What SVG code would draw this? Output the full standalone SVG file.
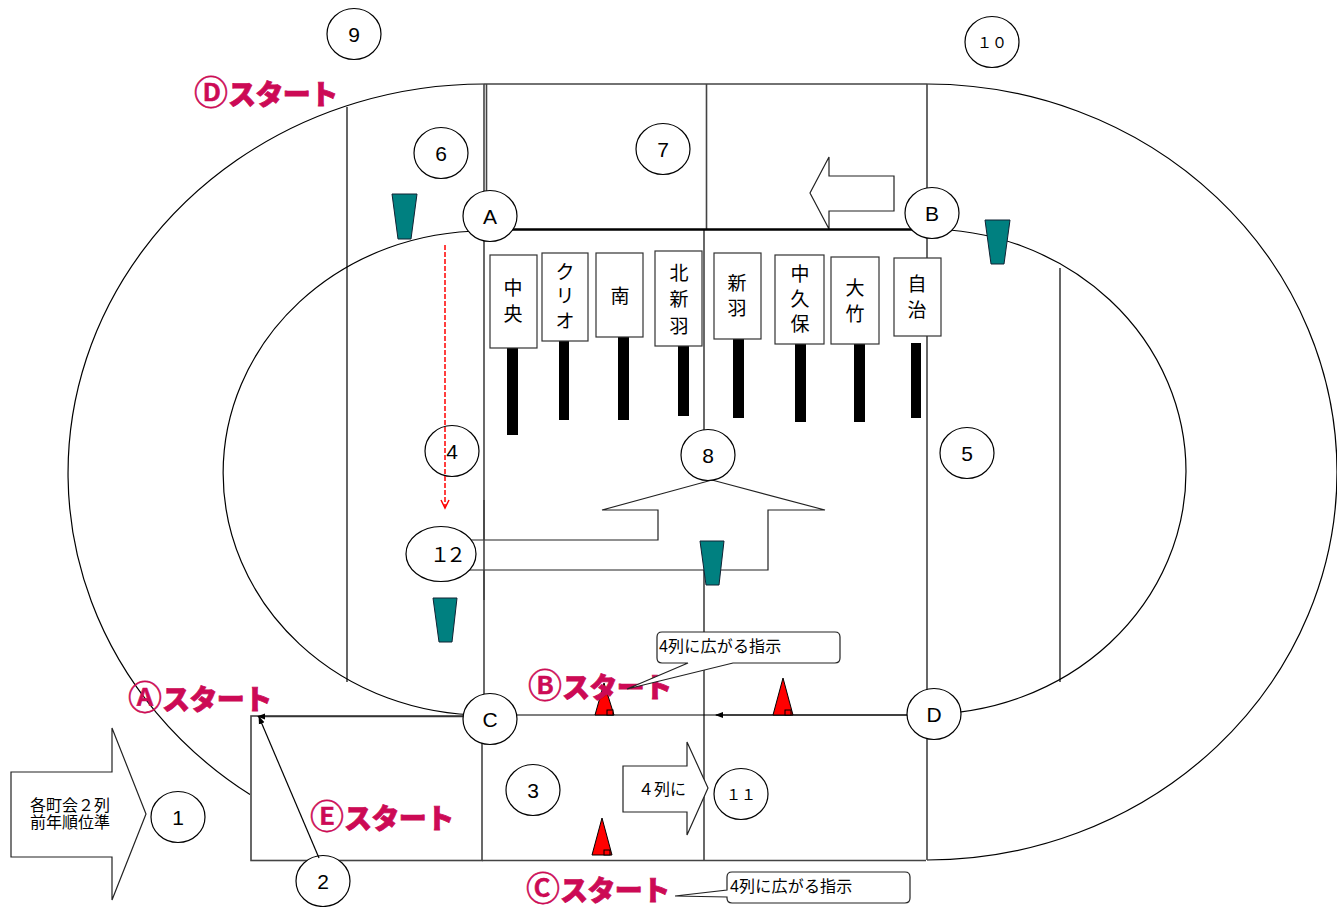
<svg xmlns="http://www.w3.org/2000/svg" width="1337" height="907" viewBox="0 0 1337 907">
<style>
text{font-family:"Liberation Sans","Noto Sans CJK JP",sans-serif;fill:#000}
.l{fill:none;stroke:#000;stroke-width:1.2}
.g{fill:none;stroke:#444;stroke-width:1.6}
.n ellipse{fill:#fff;stroke:#000;stroke-width:1.2}
.n text{font-size:21px;text-anchor:middle}
.n text.z{font-size:15px;font-family:"Noto Sans CJK JP",sans-serif}
.w{fill:#fff;stroke:#222;stroke-width:1.2}
.t{fill:#008080;stroke:#123;stroke-width:1}
.r{fill:#f00;stroke:#000;stroke-width:1}
.s{font-family:"Noto Sans CJK JP",sans-serif;font-size:28px;font-weight:900;fill:#cc0a55;stroke:#cc0a55;stroke-width:.8;letter-spacing:-.6px}
.o{font-size:34px;font-weight:500;stroke-width:.6}
.p{fill:#fff;stroke:#333;stroke-width:1.2}
.c{font-size:19px;text-anchor:middle;font-family:"Noto Sans CJK JP",sans-serif}
.m{font-size:16px;letter-spacing:.2px;font-family:"Liberation Sans","Noto Sans CJK JP",sans-serif}
.a{font-size:16px;text-anchor:middle;font-family:"Noto Sans CJK JP",sans-serif}
</style>
<defs>
<marker id="ah" markerWidth="9" markerHeight="7" refX="7" refY="3.500" orient="auto" markerUnits="userSpaceOnUse"><path d="M0 0.500L8 3.500L0 6.500Z" fill="#000"/></marker>
</defs>
<g id="track">
<path class="l" d="M484 84A416 389 0 0 0 250 794.600"/>
<path class="l" d="M927 84A410 388 0 0 1 927 860"/>
<path class="l" d="M484 231A261 242 0 0 0 484 715"/>
<path class="l" d="M926 229A260 242.500 0 0 1 926 714"/>
<path class="l" d="M347 107V682M1060 268V682"/>
<path class="g" d="M484 84H927M484 84V715M486.500 84V230M706.500 84V229M927 84V860"/>
<rect class="g" x="251" y="716" width="231" height="144.500"/>
<path class="g" d="M482 860.500H926M704 229V432M704 570V860"/>
</g>
<g id="arrows">
<path class="w" d="M11 772H112V728L146 814L112 900V857H11Z"/>
<path class="w" d="M623 766H687V742L708 788L687 835V812H623Z"/>
<path class="w" d="M894 176H829V157L810 193L829 229V211H894Z"/>
<path class="w" d="M440 540H658V510H602L712 480L825 510H768V570H440"/>
<path class="g" d="M484 500V600"/>
<text class="a" x="70" y="811">各町会２列</text>
<text class="a" x="70" y="828">前年順位準</text>
<text class="a" x="662" y="795">４列に</text>
</g>
<g id="connectors">
<path d="M490 229.500H932" fill="none" stroke="#000" stroke-width="2.600"/>
<path class="l" d="M490 715H716"/>
<path d="M934 715H716" fill="none" stroke="#000" stroke-width="1.500" marker-end="url(#ah)"/>
<path d="M490 716.500H258" fill="none" stroke="#333" stroke-width="1.500" marker-end="url(#ah)"/>
</g>
<g id="cones">
<path class="t" d="M392 194H417L411 239H398Z"/>
<path class="t" d="M985 220H1010L1004 264H991Z"/>
<path class="t" d="M700 541H724L719 585H706Z"/>
<path class="t" d="M433 598H457L452 642H439Z"/>
<path class="r" d="M604 683L614 715H595Z"/><rect class="r" x="607" y="710" width="6" height="5"/>
<path class="r" d="M783 678L793 715H773Z"/><rect class="r" x="785" y="710" width="6" height="5"/>
<path class="r" d="M602 818L612 855H592Z"/><rect class="r" x="604" y="850" width="6" height="5"/>
</g>
<g id="placards">
<rect x="507" y="348" width="11" height="87"/><rect x="559" y="341" width="10" height="79"/><rect x="618" y="337" width="11" height="83"/><rect x="678" y="346" width="11" height="70"/><rect x="733" y="339" width="11" height="79"/><rect x="795" y="344" width="11" height="78"/><rect x="854" y="344" width="11" height="78"/><rect x="911" y="343" width="10" height="75"/>
<g id="p1"><rect class="p" x="490" y="255" width="47" height="93"/><text class="c" x="513" y="295">中</text><text class="c" x="513" y="321">央</text></g>
<g id="p2"><rect class="p" x="542" y="253" width="46" height="88"/><text class="c" x="565" y="279">ク</text><text class="c" x="565" y="303">リ</text><text class="c" x="565" y="328">オ</text></g>
<g id="p3"><rect class="p" x="596" y="253" width="47" height="84"/><text class="c" x="620" y="303">南</text></g>
<g id="p4"><rect class="p" x="655" y="251" width="47" height="95"/><text class="c" x="679" y="280">北</text><text class="c" x="679" y="306">新</text><text class="c" x="679" y="333">羽</text></g>
<g id="p5"><rect class="p" x="714" y="253" width="47" height="86"/><text class="c" x="737" y="290">新</text><text class="c" x="737" y="315">羽</text></g>
<g id="p6"><rect class="p" x="775" y="255" width="49" height="89"/><text class="c" x="800" y="281">中</text><text class="c" x="800" y="306">久</text><text class="c" x="800" y="331">保</text></g>
<g id="p7"><rect class="p" x="831" y="257" width="48" height="87"/><text class="c" x="855" y="295">大</text><text class="c" x="855" y="321">竹</text></g>
<g id="p8"><rect class="p" x="894" y="258" width="47" height="78"/><text class="c" x="917" y="291">自</text><text class="c" x="917" y="317">治</text></g>
</g>
<g id="labels">
<text class="s"><tspan class="o" x="128" y="710">Ⓐ</tspan><tspan x="162" y="710">スタート</tspan></text>
<text class="s"><tspan class="o" x="528" y="698">Ⓑ</tspan><tspan x="562" y="698">スタート</tspan></text>
<text class="s"><tspan class="o" x="526" y="901">Ⓒ</tspan><tspan x="560" y="901">スタート</tspan></text>
<text class="s"><tspan class="o" x="194" y="105">Ⓓ</tspan><tspan x="228" y="105">スタート</tspan></text>
<text class="s"><tspan class="o" x="310" y="829">Ⓔ</tspan><tspan x="344" y="829">スタート</tspan></text>
</g>
<g id="callouts">
<path class="w" d="M662 632H835Q840 632 840 637V658Q840 663 835 663H733L627 689L688 663H662Q657 663 657 658V637Q657 632 662 632Z"/>
<text class="m" x="659" y="652">4列に広がる指示</text>
<path class="w" d="M732 872H905Q910 872 910 877V898Q910 903 905 903H732Q727 903 727 898V897L675 896L727 890V877Q727 872 732 872Z"/>
<text class="m" x="730" y="892">4列に広がる指示</text>
</g>
<g class="n" id="n1"><ellipse cx="178" cy="817" rx="27" ry="25.500"/><text x="178" y="825">1</text></g>
<g class="n" id="n2"><ellipse cx="323" cy="881" rx="27" ry="25.500"/><text x="323" y="889">2</text></g>
<g class="n" id="n3"><ellipse cx="533" cy="790" rx="27" ry="25.500"/><text x="533" y="798">3</text></g>
<g class="n" id="n4"><ellipse cx="452" cy="451" rx="27" ry="25.500"/><text x="452" y="459">4</text></g>
<g class="n" id="n5"><ellipse cx="967" cy="453" rx="27" ry="25.500"/><text x="967" y="461">5</text></g>
<g class="n" id="n6"><ellipse cx="441" cy="153" rx="27" ry="25.500"/><text x="441" y="161">6</text></g>
<g class="n" id="n7"><ellipse cx="663" cy="149" rx="27" ry="25.500"/><text x="663" y="157">7</text></g>
<g class="n" id="n8"><ellipse cx="708" cy="455" rx="27" ry="25.500"/><text x="708" y="463">8</text></g>
<g class="n" id="n9"><ellipse cx="354" cy="34" rx="27" ry="25.500"/><text x="354" y="42">9</text></g>
<g class="n" id="n10"><ellipse cx="992" cy="42" rx="27" ry="25.500"/><text class="z" x="992" y="48">１０</text></g>
<g class="n" id="n11"><ellipse cx="741" cy="794" rx="27" ry="25.500"/><text class="z" x="741" y="800">１１</text></g>
<g class="n" id="n12"><ellipse cx="441" cy="554" rx="35" ry="27.500"/><text class="z" x="446" y="562" style="font-size:20px;letter-spacing:-4px">１２</text></g>
<g class="n" id="nA"><ellipse cx="490" cy="216" rx="27" ry="25.500"/><text x="490" y="224">A</text></g>
<g class="n" id="nB"><ellipse cx="932" cy="213" rx="27" ry="25.500"/><text x="932" y="221">B</text></g>
<g class="n" id="nC"><ellipse cx="490" cy="719" rx="27" ry="25.500"/><text x="490" y="727">C</text></g>
<g class="n" id="nD"><ellipse cx="934" cy="714" rx="27" ry="25.500"/><text x="934" y="722">D</text></g>
<g id="overlays">
<path class="l" d="M319 858L259 717" marker-end="url(#ah)"/>
<path d="M445 245V508" fill="none" stroke="#f00" stroke-width="1.500" stroke-dasharray="5 2"/>
<path d="M441 500L445 508L449 500" fill="none" stroke="#f00" stroke-width="1.500"/>
</g>
</svg>
